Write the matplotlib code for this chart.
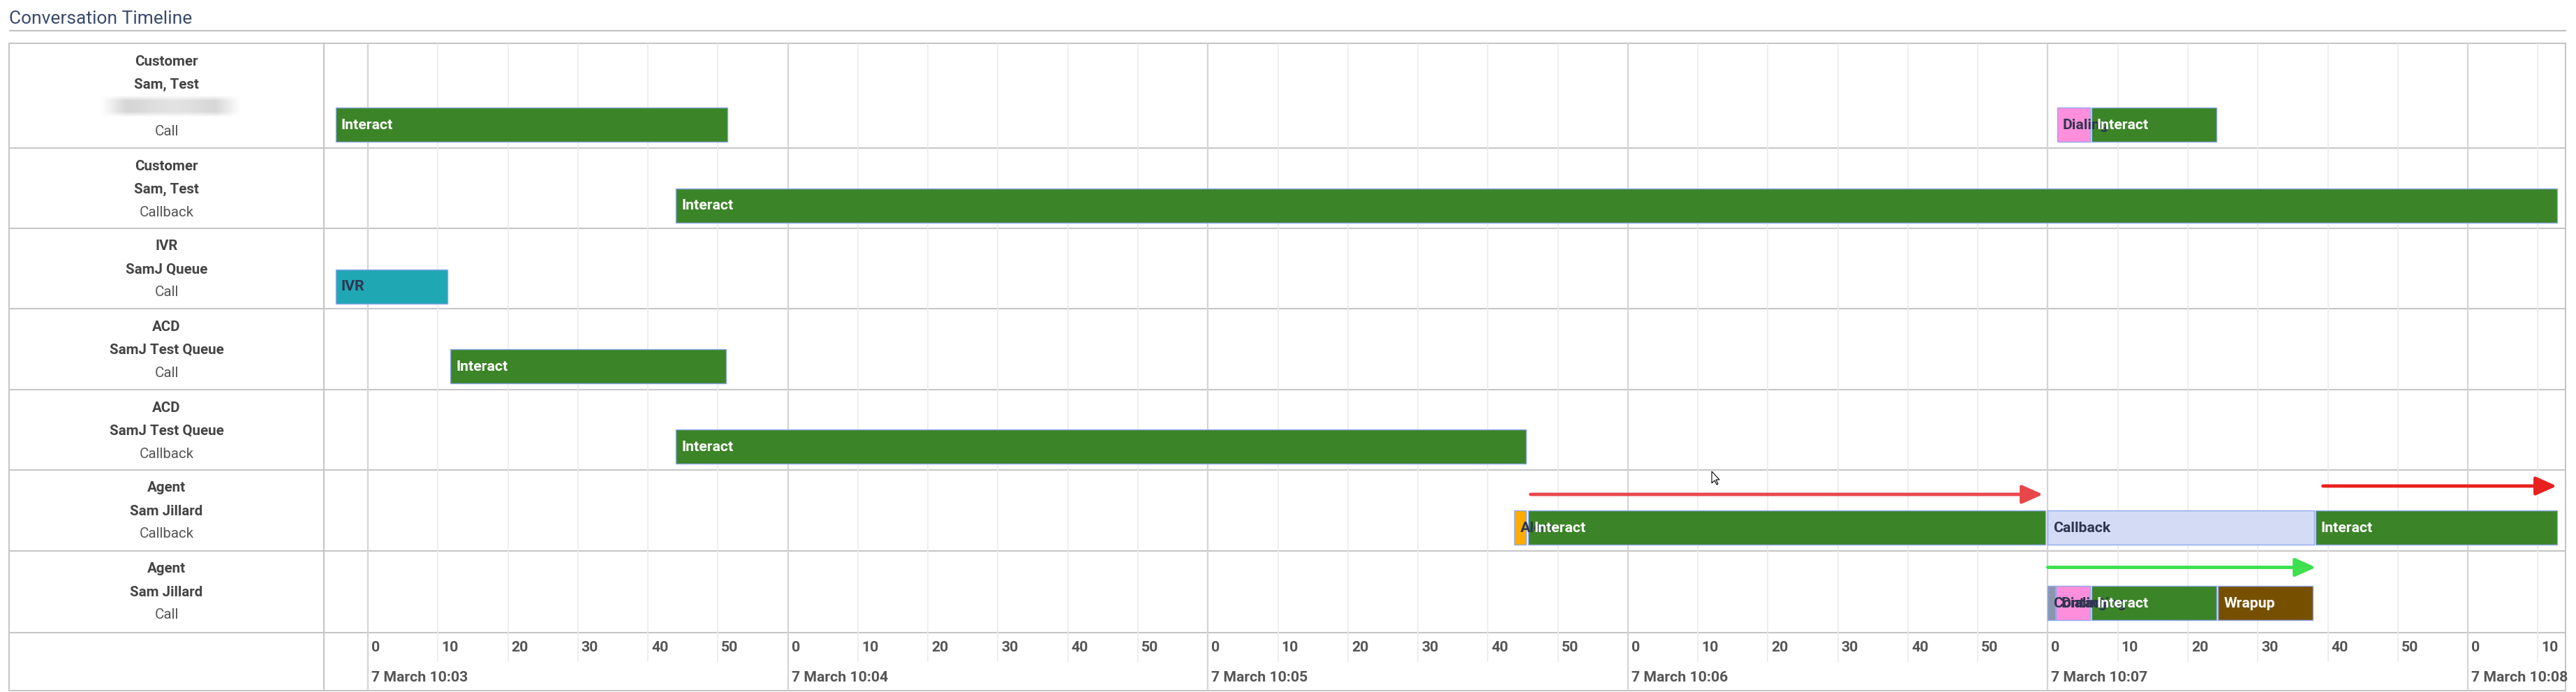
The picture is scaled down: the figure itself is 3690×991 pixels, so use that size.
import matplotlib
matplotlib.use("Agg")
import matplotlib.pyplot as plt
import numpy as np
from matplotlib.patches import Rectangle, Polygon

plt.rcParams['font.family'] = ['Roboto', 'DejaVu Sans']

# ---------------- data ----------------
title = "Conversation Timeline"
row_role = ["Customer", "Customer", "IVR", "ACD", "ACD", "Agent", "Agent"]
row_name = ["Sam, Test", "Sam, Test", "SamJ Queue", "SamJ Test Queue",
            "SamJ Test Queue", "Sam Jillard", "Sam Jillard"]
row_media = ["Call", "Callback", "Call", "Call", "Callback", "Callback", "Call"]
row_redacted = [True, False, False, False, False, False, False]

# segments: seconds relative to 7 March 10:03:00
seg_row = [0, 0, 0, 1, 2, 3, 4, 5, 5, 5, 5, 6, 6, 6, 6]
seg_label = ["Interact", "Dialing", "Interact", "Interact", "IVR", "Interact",
             "Interact", "Alert", "Interact", "Callback", "Interact",
             "Contacting", "Dialing", "Interact", "Wrapup"]
seg_start = [-4.6, 241.3, 246.2, 44.0, -4.6, 11.8, 44.0, 163.8, 165.8,
             240.0, 278.2, 240.0, 241.1, 246.2, 264.3]
seg_end = [51.4, 246.0, 264.1, 312.8, 11.4, 51.2, 165.5, 165.5, 239.7,
           278.0, 312.8, 241.0, 246.0, 264.1, 277.8]

minute_offsets = [0, 60, 120, 180, 240, 300]
minute_labels = ["7 March 10:03", "7 March 10:04", "7 March 10:05",
                 "7 March 10:06", "7 March 10:07", "7 March 10:08"]
second_ticks = [0, 10, 20, 30, 40, 50]

# screenshot markup arrows (seconds)
arrow_start = [166.1, 279.3, 240.0]
arrow_end = [239.3, 312.7, 278.3]

seg_colors = {"Interact": "#3b8427", "Dialing": "#ff8fdd", "IVR": "#20a7b4",
              "Wrapup": "#765000", "Callback": "#d4dcf5", "Alert": "#ffac00",
              "Contacting": "#8a96ae"}
seg_text_colors = {"Interact": "white", "Wrapup": "white", "Dialing": "#2e3550",
                   "IVR": "#2e3550", "Callback": "#2e3550", "Alert": "#2e3550",
                   "Contacting": "#2e3550"}
arrow_colors = ["#e8474a", "#e8201e", "#3ee04e"]

# ---------------- layout (pixels from top-left) ----------------
W, H = 3690, 991
row_edges = [62, 212, 327, 442, 558, 673, 789, 906, 989]
bar_center = [178.5, 294, 410, 525, 640, 756, 864]
arrow_y = [708, 696, 812.5]
bar_h = 49
tab_left, tab_right = 13, 3675
col_sep = 464
px_per_s = 10.027
x0_px = 527  # 10:03:00
t_min = (col_sep - x0_px) / px_per_s
t_max = (tab_right - x0_px) / px_per_s

fig = plt.figure(figsize=(W / 100, H / 100), dpi=100)
ax_bg = fig.add_axes([0, 0, 1, 1])
ax_bg.set_xlim(0, W)
ax_bg.set_ylim(H, 0)
ax_bg.axis('off')

ax_t = fig.add_axes([col_sep / W, (H - row_edges[-1]) / H,
                     (tab_right - col_sep) / W, (row_edges[-1] - row_edges[0]) / H])
ax_t.set_xlim(t_min, t_max)
ax_t.set_ylim(row_edges[-1], row_edges[0])
ax_t.axis('off')
ax_t.patch.set_alpha(0)

line_c = "#c6c6c6"
lab_fs = 14.8
tick_fs = 15.3
bar_fs = 15.3

# title and underline
ax_bg.text(tab_left, 27, title, fontsize=19, fontweight='normal', color='#3a4b6b',
           ha='left', va='center')
ax_bg.plot([tab_left, 3676], [44, 44], color='#c0c0c0', lw=1.5, solid_capstyle='butt')

# table frame and row lines
ax_bg.add_patch(Rectangle((tab_left, row_edges[0]), tab_right - tab_left,
                          row_edges[-1] - row_edges[0], fill=False,
                          edgecolor=line_c, lw=1.5))
for y in row_edges[1:-1]:
    ax_bg.plot([tab_left, tab_right], [y, y], color=line_c, lw=1.5)
ax_bg.plot([col_sep, col_sep], [row_edges[0], row_edges[-1]], color=line_c, lw=1.5)

# row labels
cx = (tab_left + col_sep) / 2
for i in range(len(row_role)):
    top = row_edges[i]
    ax_bg.text(cx, top + 26, row_role[i], ha='center', va='center', fontsize=lab_fs,
               fontweight='bold', color='#444444')
    ax_bg.text(cx, top + 59, row_name[i], ha='center', va='center', fontsize=lab_fs,
               fontweight='bold', color='#444444')
    if row_redacted[i]:
        xs = np.linspace(0, 1, 200)
        ys = np.linspace(0, 1, 32)
        ax_prof = np.clip(np.minimum(xs, 1 - xs) / 0.18, 0, 1)
        ay_prof = np.clip(np.minimum(ys, 1 - ys) / 0.25, 0, 1)
        alpha = np.outer(ay_prof, ax_prof) * (0.85 + 0.15 * np.sin(xs * 9))[None, :]
        img = np.zeros((len(ys), len(xs), 4))
        img[..., :3] = 0.84
        img[..., 3] = alpha
        ax_bg.imshow(img, extent=(144, 345, top + 106, top + 74), aspect='auto',
                     interpolation='bilinear')
        ax_bg.text(cx, top + 126, row_media[i], ha='center', va='center',
                   fontsize=lab_fs, color='#555555')
    else:
        ax_bg.text(cx, top + 92, row_media[i], ha='center', va='center',
                   fontsize=lab_fs, color='#555555')

# gridlines and time labels
for m, mlab in zip(minute_offsets, minute_labels):
    for s in second_ticks:
        t = m + s
        if t > t_max:
            continue
        if s == 0:
            ax_t.vlines(t, row_edges[0], row_edges[-1], color='#d4d4d4', lw=1.6, zorder=1)
        else:
            ax_t.vlines(t, row_edges[0], 948, color='#ebebeb', lw=1.2, zorder=1)
        ax_t.text(t + 0.5, 928, str(s), ha='left', va='center', fontsize=tick_fs,
                  fontweight='bold', color='#555555', zorder=3)
    ax_t.text(m + 0.5, 971, mlab, ha='left', va='center', fontsize=tick_fs,
              fontweight='bold', color='#555555', zorder=3)

# bars (labels clipped to their bar, as in the reference)
for r, lab, s, e in zip(seg_row, seg_label, seg_start, seg_end):
    bars = ax_t.barh(bar_center[r], e - s, left=s, height=bar_h,
                     color=seg_colors[lab], edgecolor='#8fa8ee', linewidth=1.0,
                     zorder=4)
    patch = bars.patches[0]
    txt = ax_t.text(s + 0.8, bar_center[r] + 1, lab, ha='left', va='center',
                    fontsize=bar_fs, fontweight='bold', color=seg_text_colors[lab],
                    zorder=5)
    txt.set_clip_path(patch)

# markup arrows
for a0, a1, col, yy in zip(arrow_start, arrow_end, arrow_colors, arrow_y):
    ax_t.annotate('', xy=(a1, yy), xytext=(a0, yy),
                  arrowprops=dict(arrowstyle='-|>,head_length=1.8,head_width=0.8',
                                  color=col, lw=3.5, shrinkA=0, shrinkB=0),
                  zorder=6)

# mouse cursor
cur = np.array([(0, 0), (0, 17), (4, 13), (7, 19), (9, 18), (6, 12), (11, 12)])
cur = cur + np.array([2452, 675])
ax_bg.add_patch(Polygon(cur, closed=True, facecolor='white', edgecolor='black',
                        lw=0.8, zorder=10))

fig.savefig("out.png", dpi=100)
